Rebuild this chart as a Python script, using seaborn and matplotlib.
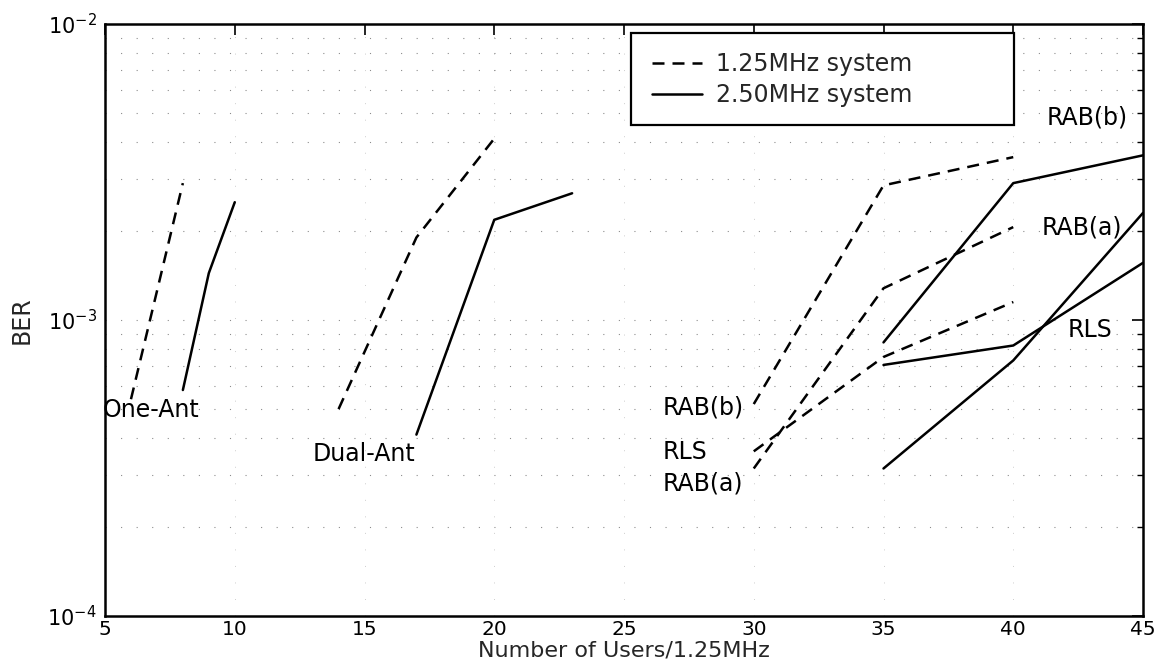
import numpy as np
import pandas as pd
import matplotlib
matplotlib.use("Agg")
import matplotlib.pyplot as plt
from matplotlib.lines import Line2D
from matplotlib.patches import Rectangle
from matplotlib.ticker import LogLocator, FixedLocator
import seaborn as sns

# ---------------- data ----------------
# 1.25 MHz system (dashed)
one_ant_125_x = [6, 7, 8]
one_ant_125_y = [5.4e-4, 1.25e-3, 2.9e-3]
dual_ant_125_x = [14, 17, 20]
dual_ant_125_y = [5.0e-4, 1.9e-3, 4.1e-3]
rab_b_125_x = [30, 35, 40]
rab_b_125_y = [5.2e-4, 2.85e-3, 3.55e-3]
rab_a_125_x = [30, 35, 40]
rab_a_125_y = [3.15e-4, 1.28e-3, 2.06e-3]
rls_125_x = [30, 35, 40]
rls_125_y = [3.6e-4, 7.5e-4, 1.15e-3]

# 2.50 MHz system (solid)
one_ant_250_x = [8, 9, 10]
one_ant_250_y = [5.8e-4, 1.44e-3, 2.5e-3]
dual_ant_250_x = [17, 20, 23]
dual_ant_250_y = [4.1e-4, 2.18e-3, 2.68e-3]
rab_b_250_x = [35, 40, 45]
rab_b_250_y = [8.4e-4, 2.9e-3, 3.6e-3]
rab_a_250_x = [35, 40, 45]
rab_a_250_y = [3.15e-4, 7.3e-4, 2.3e-3]
rls_250_x = [35, 40, 45]
rls_250_y = [7.05e-4, 8.2e-4, 1.56e-3]

series_names = ["One-Ant", "Dual-Ant", "RAB(b)", "RAB(a)", "RLS"]
legend_labels = ["1.25MHz system", "2.50MHz system"]

label_texts = ["One-Ant", "Dual-Ant", "RAB(b)", "RLS", "RAB(a)",
               "RAB(b)", "RAB(a)", "RLS"]
label_x = [4.92, 13.0, 26.5, 26.5, 26.5, 41.3, 41.1, 42.1]
label_y = [4.97e-4, 3.52e-4, 5.08e-4, 3.58e-4, 2.8e-4, 4.85e-3, 2.06e-3, 9.25e-4]

x_ticks = [5, 10, 15, 20, 25, 30, 35, 40, 45]

# ---------------- build long table ----------------
rows = []
groups_125 = [(one_ant_125_x, one_ant_125_y), (dual_ant_125_x, dual_ant_125_y),
              (rab_b_125_x, rab_b_125_y), (rab_a_125_x, rab_a_125_y),
              (rls_125_x, rls_125_y)]
groups_250 = [(one_ant_250_x, one_ant_250_y), (dual_ant_250_x, dual_ant_250_y),
              (rab_b_250_x, rab_b_250_y), (rab_a_250_x, rab_a_250_y),
              (rls_250_x, rls_250_y)]
for sysname, groups in ((legend_labels[0], groups_125), (legend_labels[1], groups_250)):
    for name, (xs, ys) in zip(series_names, groups):
        for xv, yv in zip(xs, ys):
            rows.append({"system": sysname, "curve": name, "users": xv, "ber": yv})
df = pd.DataFrame(rows)

# ---------------- style ----------------
sns.set_style("white")
plt.rcParams["font.family"] = ["DejaVu Sans"]
plt.rcParams["mathtext.fontset"] = "dejavusans"
plt.rcParams["mathtext.default"] = "regular"

TXT = 17
fig = plt.figure(figsize=(11.63, 6.65), dpi=100)
ax = fig.add_axes([0.0903, 0.0737, 0.8925, 0.8902])

dash_style = (0, (4.8, 3.2))
for sysname, ls in ((legend_labels[0], dash_style), (legend_labels[1], "-")):
    sub = df[df["system"] == sysname]
    for name in series_names:
        d = sub[sub["curve"] == name]
        sns.lineplot(data=d, x="users", y="ber", ax=ax, color="black",
                     linestyle=ls, linewidth=1.8, estimator=None, sort=False,
                     legend=False)

ax.set_yscale("log")
ax.set_xlim(5, 45)
ax.set_ylim(1e-4, 1e-2)
ax.xaxis.set_major_locator(FixedLocator(x_ticks))
ax.yaxis.set_major_locator(LogLocator(base=10, numticks=10))
ax.yaxis.set_minor_locator(LogLocator(base=10, subs=np.arange(2, 10), numticks=20))

ax.grid(True, which="major", axis="y", linestyle=(0, (1, 13)), color="black",
        linewidth=0.8, alpha=0.45)
ax.grid(True, which="minor", axis="y", linestyle=(0, (1, 13)), color="black",
        linewidth=0.8, alpha=0.45)
ax.grid(True, which="major", axis="x", linestyle=(0, (1, 16)), color="black",
        linewidth=0.7, alpha=0.2)

ax.tick_params(axis="both", which="both", direction="in", top=True, right=True,
               colors="black", labelsize=15)
ax.tick_params(axis="both", which="major", length=8, width=1.2, pad=6)
ax.tick_params(axis="x", which="major", labelsize=14.5, pad=3)
ax.tick_params(axis="y", which="minor", length=4, width=1.0)
for sp in ax.spines.values():
    sp.set_color("black")
    sp.set_linewidth(1.8)

ax.set_xlabel("Number of Users/1.25MHz", fontsize=16, labelpad=1)
ax.set_ylabel("BER", fontsize=TXT, labelpad=10)

for t, xv, yv in zip(label_texts, label_x, label_y):
    ax.text(xv, yv, t, fontsize=TXT, ha="left", va="center", color="black")

# legend with a box like the original
frame = Rectangle((0.507, 0.829), 0.369, 0.156, transform=ax.transAxes,
                  fill=True, facecolor="white", edgecolor="black", linewidth=1.6,
                  zorder=4)
ax.add_patch(frame)
handles = [Line2D([], [], color="black", linestyle=dash_style, linewidth=1.8),
           Line2D([], [], color="black", linestyle="-", linewidth=1.8)]
leg = ax.legend(handles, legend_labels, loc="upper left",
                bbox_to_anchor=(0.509, 0.985), frameon=False, fontsize=TXT,
                handlelength=2.1, handletextpad=0.6, labelspacing=0.3,
                borderpad=0.3)
leg.set_zorder(5)

fig.savefig("out.png", dpi=100)
